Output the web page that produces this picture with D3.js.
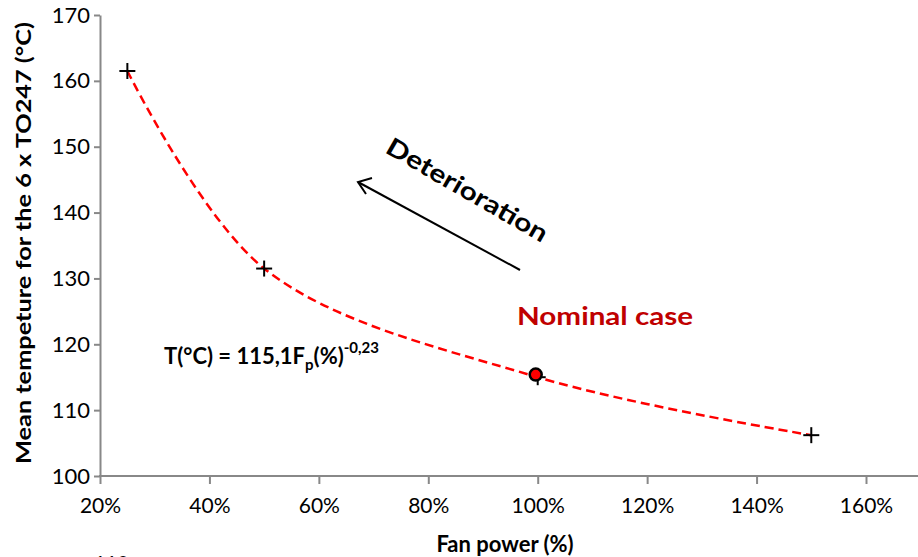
<html>
<head>
<script src="https://d3js.org/d3.v7.min.js"></script>
<style>
  body {margin:0; background:#fff; font-family:"Lato";}
</style>
</head>
<body>
<script>
// fan power (fraction of nominal) vs mean temperature
var fanPower = [0.25, 0.5, 1.0, 1.5]
var meanTemp = [161.5, 131.5, 115.0, 106.2]
var nominalPower = [1.0]
var nominalTemp = [115.4]
var xTicks = [0.2, 0.4, 0.6, 0.8, 1.0, 1.2, 1.4, 1.6]
var yTicks = [100, 110, 120, 130, 140, 150, 160, 170]

var width = 918, height = 557
var axisCol = "#888888"

var svg = d3.select("body").append("svg")
    .attr("width", width)
    .attr("height", height)

var x = d3.scaleLinear().domain([0.2, 1.6]).range([100, 866])
var y = d3.scaleLinear().domain([100, 170]).range([476, 15])

// y axis
var yAxis = svg.append("g")
    .attr("transform", "translate(100,0)")
    .call(d3.axisLeft(y).tickValues(yTicks).tickSize(6).tickPadding(4).tickSizeOuter(0))
yAxis.select(".domain").attr("stroke", axisCol).attr("stroke-width", 2)
yAxis.selectAll(".tick line").attr("stroke", axisCol).attr("stroke-width", 2)
yAxis.selectAll("text").style("font-family", "Lato").style("font-size", "22px").attr("fill", "#000")

// x axis
var xAxis = svg.append("g")
    .attr("transform", "translate(0,476)")
    .call(d3.axisBottom(x).tickValues(xTicks).tickSize(8).tickPadding(14)
        .tickFormat(function(d){ return Math.round(d*100) + "%" }))
xAxis.select(".domain").remove()
xAxis.append("line").attr("x1", 99).attr("x2", width).attr("y1", 0).attr("y2", 0)
    .attr("stroke", axisCol).attr("stroke-width", 2)
xAxis.selectAll(".tick line").attr("stroke", axisCol).attr("stroke-width", 2)
xAxis.selectAll("text").style("font-family", "Lato").style("font-size", "21px").attr("fill", "#000")

// axis titles
svg.append("text")
    .attr("x", 505).attr("y", 552)
    .attr("text-anchor", "middle")
    .style("font-family", "Lato").style("font-weight", "bold").style("font-size", "22px")
    .text("Fan power (%)")

svg.append("text")
    .attr("transform", "translate(31,243) rotate(-90)")
    .attr("text-anchor", "middle")
    .attr("textLength", 442).attr("lengthAdjust", "spacingAndGlyphs")
    .style("font-family", "Lato").style("font-weight", "bold").style("font-size", "20px")
    .text("Mean tempeture for the  6 x TO247 (°C)")

// clipped leftover label at the bottom (cut off in the original too)
svg.append("text")
    .attr("x", 94).attr("y", 570)
    .style("font-family", "Lato").style("font-size", "20px")
    .text("110")

// smoothed dashed line through the points
var pts = fanPower.map(function(d, i){ return [d, meanTemp[i]] })
var line = d3.line()
    .x(function(d){ return x(d[0]) })
    .y(function(d){ return y(d[1]) })
    .curve(d3.curveCatmullRom.alpha(0.5))

svg.append("path")
    .datum(pts)
    .attr("d", line)
    .attr("fill", "none")
    .attr("stroke", "#ff0000")
    .attr("stroke-width", 2.5)
    .attr("stroke-dasharray", "9,5")

// cross markers
var cross = svg.append("g").selectAll("g")
    .data(pts)
    .enter().append("g")
    .attr("transform", function(d){ return "translate(" + x(d[0]) + "," + y(d[1]) + ")" })
cross.append("line").attr("x1", -8).attr("x2", 8).attr("stroke", "#000").attr("stroke-width", 2)
cross.append("line").attr("y1", -8).attr("y2", 8).attr("stroke", "#000").attr("stroke-width", 2)

// nominal case point
svg.append("g").selectAll("circle")
    .data(nominalPower)
    .enter().append("circle")
    .attr("cx", function(d){ return x(d) - 2 })
    .attr("cy", function(d, i){ return y(nominalTemp[i]) })
    .attr("r", 6)
    .attr("fill", "#ff0000")
    .attr("stroke", "#000")
    .attr("stroke-width", 2.5)

svg.append("text")
    .attr("x", 517).attr("y", 325)
    .attr("textLength", 176).attr("lengthAdjust", "spacingAndGlyphs")
    .style("font-family", "Lato").style("font-weight", "bold").style("font-size", "25px")
    .attr("fill", "#c00000")
    .text("Nominal case")

// trend equation
var eq = svg.append("text")
    .attr("x", 164).attr("y", 364)
    .style("font-family", "Lato").style("font-weight", "bold").style("font-size", "22px")
eq.append("tspan").text("T(°C) = 115,1F")
eq.append("tspan").attr("dy", 6).style("font-size", "15px").text("p")
eq.append("tspan").attr("dy", -6).text("(%)")
eq.append("tspan").attr("dy", -11).style("font-size", "15px").text("-0,23")

// deterioration arrow
svg.append("line")
    .attr("x1", 520).attr("y1", 270).attr("x2", 358).attr("y2", 182)
    .attr("stroke", "#000").attr("stroke-width", 2)
svg.append("path")
    .attr("d", "M372,178 L358,182 L366,194")
    .attr("fill", "none").attr("stroke", "#000").attr("stroke-width", 2)

svg.append("text")
    .attr("transform", "translate(384,152) rotate(30)")
    .attr("textLength", 182).attr("lengthAdjust", "spacingAndGlyphs")
    .style("font-family", "Lato").style("font-weight", "bold").style("font-size", "25px")
    .text("Deterioration")
</script>
</body>
</html>
